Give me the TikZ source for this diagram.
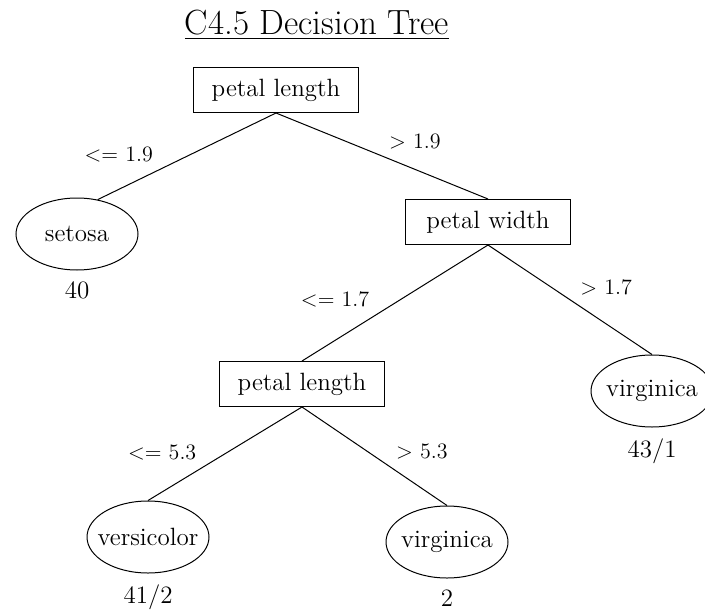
\documentclass[tikz,border=0pt]{standalone}
\usepackage{tikz}
\usetikzlibrary{arrows,shapes,positioning}

\begin{document}
\begin{tikzpicture}[x=0.5pt,y=-0.5pt,line width=0.5pt,
test node/.style={rectangle,draw,minimum width=82.5pt,minimum height=22.5pt,font=\fontsize{12.5}{15}\selectfont},
leaf node/.style={ellipse,draw,minimum width=61pt,minimum height=36pt,inner xsep=-5pt,inner ysep=0pt,font=\fontsize{12.5}{15}\selectfont},
count node/.style={font=\fontsize{12.5}{15}\selectfont}]

\useasboundingbox (0,0) rectangle (705,609);

\node[anchor=base,font=\fontsize{17.5}{21}\selectfont] (title) at (317,35) {\underline{C4.5 Decision Tree}};

\node[test node] (pl1) at (276,90) {petal length};
\node[leaf node] (setosa) at (77,234) {setosa};
\node[test node] (pw) at (488,222) {petal width};
\node[test node] (pl2) at (302,384) {petal length};
\node[leaf node] (virg1) at (652,391) {virginica};
\node[leaf node] (versi) at (148,537) {versicolor};
\node[leaf node] (virg2) at (447,542) {virginica};

\node[count node] (n1) [below=2pt of setosa] {40};
\node[count node] (n2) [below=2pt of virg1] {43/1};
\node[count node] (n3) [below=2pt of versi] {41/2};
\node[count node] (n4) [below=2pt of virg2] {2};


\path[every node/.style={font=\fontsize{11}{13}\selectfont}]
(pl1.south) edge node[pos=0.65,above left] {<= 1.9} (setosa.59)
(pl1.south) edge node[pos=0.5,above right] {> 1.9} (pw.north)
(pw.south) edge node[pos=0.6,above left] {<= 1.7} (pl2.north)
(pw.south) edge node[pos=0.52,above right] {> 1.7} (virg1.north)
(pl2.south) edge node[pos=0.64,above left] {<= 5.3} (versi.north)
(pl2.south) edge node[pos=0.6,above right] {> 5.3} (virg2.north);
\end{tikzpicture}
\end{document}
